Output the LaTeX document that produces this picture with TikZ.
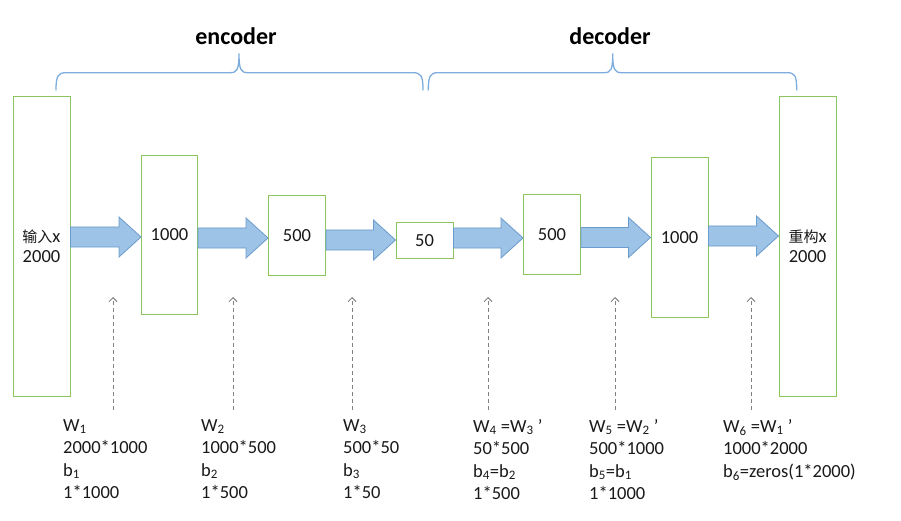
\documentclass[tikz,border=0pt]{standalone}
\usepackage{fontspec}
\setmainfont{Carlito}
\newfontfamily\cjk{Noto Sans CJK SC}
\usetikzlibrary{arrows.meta,calc}
\definecolor{boxgreen}{RGB}{140,196,95}
\definecolor{arrfill}{RGB}{157,195,230}
\definecolor{arrline}{RGB}{108,155,205}
\definecolor{bracecol}{RGB}{125,172,222}
\definecolor{dashgray}{RGB}{130,130,130}
\definecolor{txt}{RGB}{25,25,25}
\newcommand\blockarr[3]{%
  \filldraw[blockarrow] let \p1=(#1.east), \p2=(#2.west) in
    (\x1,#3pt+10pt) -- (\x2-22pt,#3pt+10pt) -- (\x2-22pt,#3pt+20pt) -- (\x2,#3pt)
    -- (\x2-22pt,#3pt-20pt) -- (\x2-22pt,#3pt-10pt) -- (\x1,#3pt-10pt) -- cycle;}
\newcommand\prm{\char"27}
\begin{document}
\begin{tikzpicture}[x=1pt,y=1pt,
  layerbox/.style={draw=boxgreen,line width=1pt,fill=white,inner sep=0pt,
    text=txt,align=center,font=\fontsize{18.5}{20}\selectfont},
  blockarrow/.style={fill=arrfill,draw=arrline,line width=0.8pt,line join=miter},
  bracestyle/.style={draw=bracecol,line width=1.3pt,line cap=round},
  titletext/.style={font=\fontsize{24}{28}\selectfont\bfseries,text=black,inner sep=0pt},
  paramtext/.style={font=\fontsize{18.5}{22.5}\selectfont,text=txt,align=left,
    anchor=north west,inner sep=0pt},
  dasharrow/.style={draw=dashgray,line width=0.9pt,dash pattern=on 4pt off 3pt,
    -{Straight Barb[length=4pt,width=8pt,line width=1pt]}}]
\useasboundingbox (0,0) rectangle (901,520);

% layers
\node[layerbox,minimum width=57pt,minimum height=299pt] (b1) at (41.5,273.5)
  {{\fontsize{15}{20}\selectfont\cjk 输入}x\\2000};
\node[layerbox,minimum width=56pt,minimum height=158pt] (b2) at (169.5,285) {1000};
\node[layerbox,minimum width=57pt,minimum height=80pt] (b3) at (297,284.5) {500};
\node[layerbox,minimum width=57pt,minimum height=36pt] (b4) at (424.5,279.5) {50};
\node[layerbox,minimum width=57pt,minimum height=79pt] (b5) at (552,285.5) {500};
\node[layerbox,minimum width=57pt,minimum height=159pt] (b6) at (679.5,282.5) {1000};
\node[layerbox,minimum width=57pt,minimum height=299pt] (b7) at (807.5,273.5)
  {{\fontsize{15}{20}\selectfont\cjk 重构}x\\2000};

% block arrows
\blockarr{b1}{b2}{283}
\blockarr{b2}{b3}{282}
\blockarr{b3}{b4}{280}
\blockarr{b4}{b5}{282}
\blockarr{b5}{b6}{282.5}
\blockarr{b6}{b7}{284}

% braces
\draw[bracestyle] (56,430) .. controls (56,444) and (58,447.3) .. (66,447.3)
  -- (230,447.3) .. controls (237,447.3) and (239,450) .. (239,466.7)
  .. controls (239,450) and (241,447.3) .. (248,447.3)
  -- (413,447.3) .. controls (421,447.3) and (423,444) .. (423,430);
\draw[bracestyle] (428.3,430) .. controls (428.3,444) and (430.3,447.3) .. (438,447.3)
  -- (604,447.3) .. controls (611,447.3) and (612.7,450) .. (612.7,466.7)
  .. controls (612.7,450) and (614.7,447.3) .. (622,447.3)
  -- (787,447.3) .. controls (795,447.3) and (796.7,444) .. (796.7,430);

% titles
\node[titletext,anchor=base] (enc) at (236,475) {encoder};
\node[titletext,anchor=base] (dec) at (610,475) {decoder};

% parameter labels
\node[paramtext] (p1) at (63,101) {W\textsubscript{1}\\2000*1000\\b\textsubscript{1}\\1*1000};
\node[paramtext] (p2) at (201,101) {W\textsubscript{2}\\1000*500\\b\textsubscript{2}\\1*500};
\node[paramtext] (p3) at (343,101) {W\textsubscript{3}\\500*50\\b\textsubscript{3}\\1*50};
\node[paramtext] (p4) at (473,101) {W\textsubscript{4} =W\textsubscript{3} \prm\\50*500\\b\textsubscript{4}=b\textsubscript{2}\\1*500};
\node[paramtext] (p5) at (589,101) {W\textsubscript{5} =W\textsubscript{2} \prm\\500*1000\\b\textsubscript{5}=b\textsubscript{1}\\1*1000};
\node[paramtext] (p6) at (723,101) {W\textsubscript{6} =W\textsubscript{1} \prm\\1000*2000\\b\textsubscript{6}=zeros(1*2000)};

% dashed pointers
\foreach \i/\xx in {1/113,2/233,3/352,4/488,5/615,6/751}{
  \coordinate (s\i) at (\xx,110);
  \coordinate (t\i) at (\xx,223);
  \draw[dasharrow] (s\i) -- (t\i);
}
\end{tikzpicture}
\end{document}
